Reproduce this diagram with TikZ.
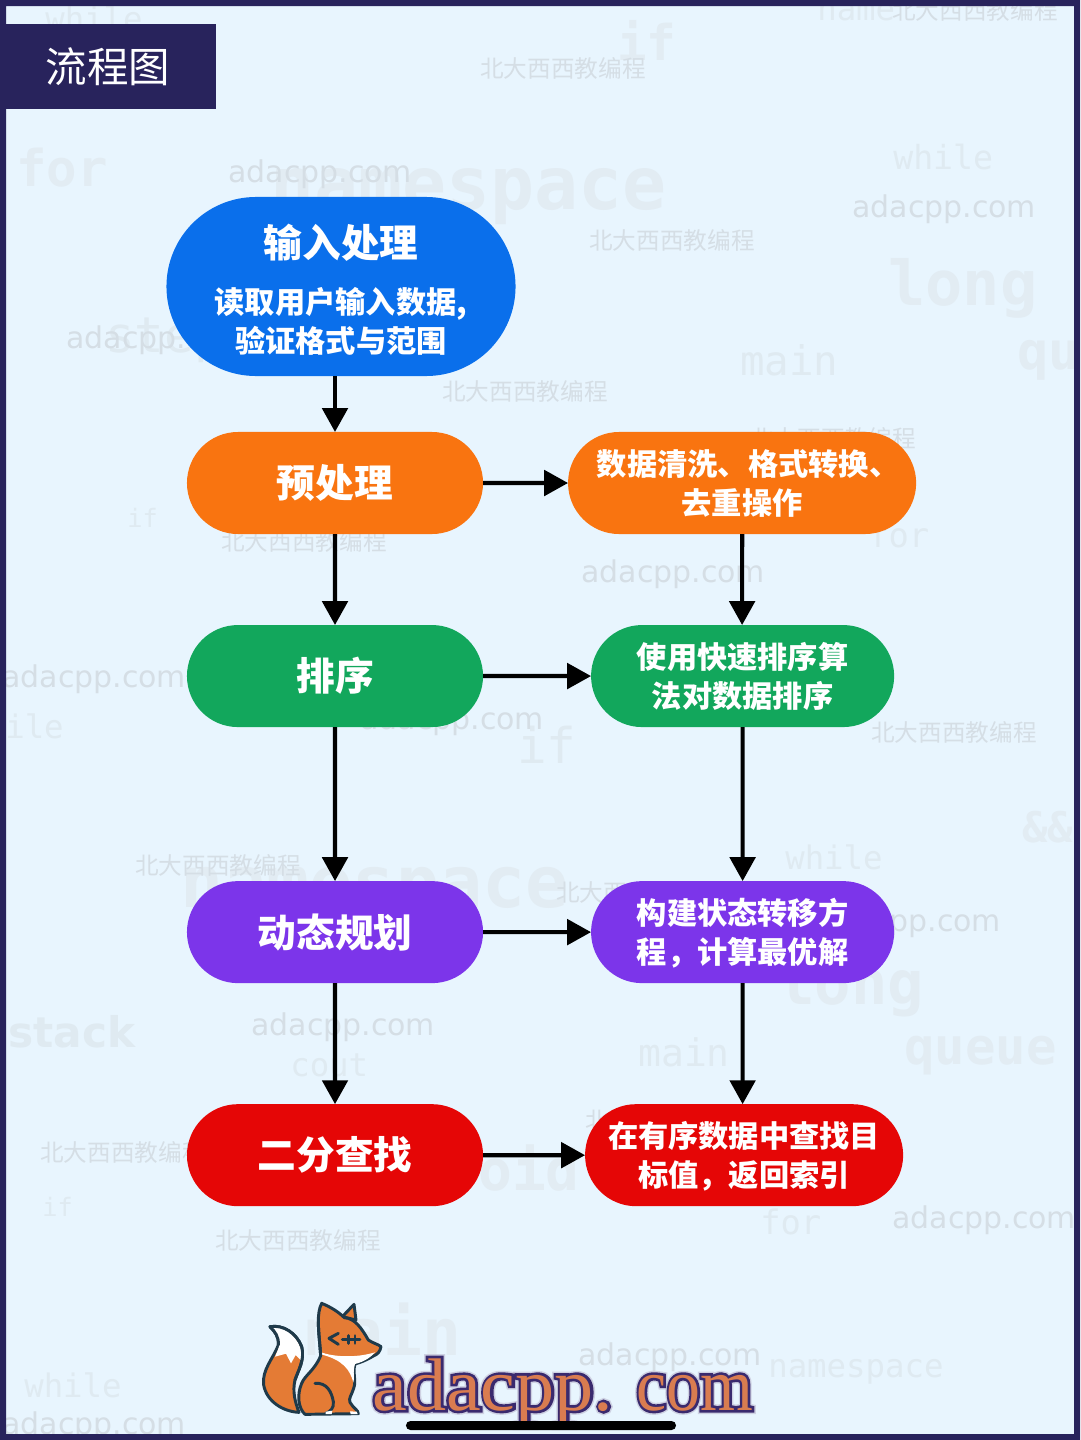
\documentclass[tikz,border=0pt]{standalone}
\usepackage{fontspec}
\usepackage{xcolor}
\usepackage{graphicx}
\usetikzlibrary{arrows.meta,positioning,shapes.misc}

\newfontfamily\cjk{Noto Sans CJK SC}
\newfontfamily\wmsans{DejaVu Sans}
\newfontfamily\wmmono{DejaVu Sans Mono}
\newfontfamily\logofont{Liberation Serif}
\newfontfamily\logoline[FakeBold=7]{Liberation Serif}
\newfontfamily\logoglow[FakeBold=11]{Liberation Serif}

\newcommand{\headfont}{\cjk\bfseries\fontsize{27.5}{36}\selectfont}
\newcommand{\bodyfont}{\cjk\bfseries\fontsize{21.5}{27.7}\selectfont}
\newcommand{\logoword}{\scalebox{1.05}[1]{adacpp.}\ \hspace{3pt}\scalebox{0.91}[1]{com}}

\definecolor{framenavy}{HTML}{28235C}
\definecolor{pagebg}{HTML}{E8F5FE}
\definecolor{inputblue}{HTML}{0A6FEB}
\definecolor{preorange}{HTML}{F97410}
\definecolor{sortgreen}{HTML}{12A75C}
\definecolor{dppurple}{HTML}{7C35EA}
\definecolor{findred}{HTML}{E50606}
\definecolor{wmdark}{HTML}{D5DEE5}
\definecolor{wmlight}{HTML}{DFEAF1}
\definecolor{wmpale}{HTML}{E2ECF3}
\definecolor{foxorange}{HTML}{E47B35}
\definecolor{foxline}{HTML}{1F3A4A}
\definecolor{logoink}{HTML}{3A2A6E}
\definecolor{logofill}{HTML}{D97C50}

\begin{document}
\begin{tikzpicture}[
  x=0.025cm, y=-0.025cm,
  box/.style={rounded rectangle, inner sep=0pt, outer sep=0pt, text=white, align=center,
              minimum height=2.55cm, font=\bodyfont},
  arrow/.style={-{Triangle[length=17pt, width=18pt]}, line width=3pt},
  wmark/.style={anchor=west, inner sep=0pt, text=wmdark, font=\cjk\fontsize{16.8}{17}\selectfont},
  wsite/.style={anchor=west, inner sep=0pt, text=wmdark, font=\wmsans\fontsize{21.3}{22}\selectfont},
  wcode/.style={anchor=west, inner sep=0pt, text=wmlight},
  foxfill/.style={fill=foxorange, draw=foxline, line width=2.1pt, line join=round},
  foxstroke/.style={draw=foxline, line width=2.1pt, line cap=round, line join=round},
  logotext/.style={anchor=base west, inner sep=0pt}
]
\useasboundingbox (0,0) rectangle (1080,1440);
\fill[pagebg] (0,0) rectangle (1080,1440);

% watermarks
\foreach \wx/\wy/\ws/\wt [count=\i] in {
  893/157/23.6/while, 740/360/29/main, 105/340/35/step,
  127/518/18/if, 868/535/24/for, 5/726/23/ile, 517/745/35/if,
  785/857/23/while, 638/1052/27/main, 290/1065/23/cout,
  42/1207/18/if, 760/1222/24/for,
  24/1385/23/while, 768/1372/23/namespace, 817/12/23/name, 45/18/23/while}
  \node[wcode, font=\wmmono\fontsize{\ws}{\ws}\selectfont] (code\i) at (\wx,\wy) {\wt};
\foreach \wx/\wy/\ws/\wt [count=\i] in {
  16/168/36/for, 617/40/35/if, 270/197/52/namespace,
  888/288/44/long, 1017/360/37/qu, 180/895/51/namespace, 1022/827/30/\&\&,
  778/988/43/long, 904/1056/36/queue, 444/1168/40/void, 305/1330/46/main}
  \node[wcode, text=wmpale, font=\wmmono\bfseries\fontsize{\ws}{\ws}\selectfont] (bold\i) at (\wx,\wy) {\wt};
\node[wcode, font=\wmsans\bfseries\fontsize{30}{31}\selectfont] (stack) at (8,1032) {stack};
\foreach \wx/\wy [count=\i] in {
  228/174, 852/209, 66/340, 581/574, 2/679, 360/721, 817/923,
  251/1027, 892/1220, 578/1357, 2/1426}
  \node[wsite] (site\i) at (\wx,\wy) {adacpp.com};
\foreach \wx/\wy [count=\i] in {
  480/68, 589/240, 442/391, 221/541, 750/438, 871/732, 135/865,
  556/892, 40/1152, 215/1240, 585/1120, 892/10}
  \node[wmark] (mark\i) at (\wx,\wy) {北大西西教编程};

% frame and title
\fill[framenavy, even odd rule] (0,0) rectangle (1080,1440) (6,6) rectangle (1074,1434);
\node[rectangle, fill=framenavy, text=white, inner sep=0pt,
      minimum width=5.4cm, minimum height=2.125cm,
      font=\cjk\fontsize{29.5}{30}\selectfont] (titlebar) at (108,66.5) {流程图};

% left column
\node[box, fill=inputblue, minimum width=8.725cm, minimum height=4.475cm] (input) at (341,286.5)
  {\headfont\rule{0pt}{28pt}输入处理\\[4.2mm]\bodyfont 读取用户输入数据,\\验证格式与范围};
\node[box, fill=preorange, minimum width=7.4cm, font=\headfont] (pre) at (335,483) {预处理};
\node[box, fill=sortgreen, minimum width=7.4cm, font=\headfont, below=2.275cm of pre] (sort) {排序};
\node[box, fill=dppurple, minimum width=7.4cm, font=\headfont, below=3.85cm of sort] (dp) {动态规划};
\node[box, fill=findred, minimum width=7.4cm, font=\headfont, below=3.025cm of dp] (bin) {二分查找};

% right column
\node[box, fill=preorange, minimum width=8.7cm, right=2.125cm of pre] (clean) {\rule{0pt}{19pt}\hspace*{8.5pt}数据清洗、格式转换、\\去重操作};
\node[box, fill=sortgreen, minimum width=7.575cm, right=2.7cm of sort] (quick) {使用快速排序算\\法对数据排序};
\node[box, fill=dppurple, minimum width=7.575cm, right=2.7cm of dp] (state) {\rule{0pt}{20pt}构建状态转移方\\程，计算最优解};
\node[box, fill=findred, minimum width=7.95cm, right=2.55cm of bin] (find) {\rule{0pt}{20pt}在有序数据中查找目\\标值，返回索引};

\draw[arrow] (pre.north |- input.south) -- (pre.north);
\draw[arrow] (pre) -- (sort);
\draw[arrow] (sort) -- (dp);
\draw[arrow] (dp) -- (bin);
\draw[arrow] (pre) -- (clean);
\draw[arrow] (sort) -- (quick);
\draw[arrow] (dp) -- (state);
\draw[arrow] (bin) -- (find);
\draw[arrow] (clean) -- (clean |- quick.north);
\draw[arrow] (quick) -- (quick |- state.north);
\draw[arrow] (state) -- (state |- find.north);

% fox
\begin{scope}[shift={(255,1295)}, x=0.025cm/3, y=-0.025cm/3]
  \path[foxfill] (45,95) .. controls (85,88) and (125,115) .. (140,155)
    .. controls (150,195) and (130,225) .. (120,255)
    .. controls (112,290) and (120,320) .. (132,352)
    .. controls (85,350) and (35,320) .. (26,270)
    .. controls (20,225) and (55,190) .. (70,150)
    .. controls (72,125) and (60,110) .. (45,95) -- cycle;
  \path[fill=white] (48,97) .. controls (85,92) and (122,118) .. (137,160)
    .. controls (140,170) and (139,180) .. (137,195)
    -- (122,180) -- (108,205) -- (93,176) -- (60,185)
    .. controls (66,170) and (72,160) .. (73,148)
    .. controls (74,125) and (62,110) .. (48,97) -- cycle;
  \path[foxstroke] (45,95) .. controls (85,88) and (125,115) .. (140,155)
    .. controls (150,195) and (130,225) .. (120,255);
  \path[foxstroke] (45,95) .. controls (60,110) and (72,125) .. (70,150);
  \path[foxfill] (262,65) -- (297,28) -- (303,75) -- cycle;
  \path[foxfill] (200,25) .. controls (225,35) and (250,50) .. (268,68)
    .. controls (300,70) and (320,100) .. (340,135)
    .. controls (355,145) and (370,148) .. (378,155)
    .. controls (375,170) and (368,178) .. (355,183)
    .. controls (335,195) and (315,203) .. (300,207)
    .. controls (292,235) and (305,255) .. (296,280)
    .. controls (290,300) and (280,310) .. (285,322)
    .. controls (295,340) and (310,345) .. (310,356)
    -- (150,358)
    .. controls (130,340) and (125,300) .. (140,265)
    .. controls (150,240) and (180,225) .. (197,182)
    .. controls (195,150) and (190,110) .. (190,80)
    .. controls (190,60) and (192,40) .. (200,25) -- cycle;
  \path[fill=white] (198,172) .. controls (235,185) and (300,190) .. (360,172)
    .. controls (340,195) and (315,203) .. (300,207)
    .. controls (292,235) and (300,250) .. (295,262)
    .. controls (285,225) and (265,195) .. (198,178) -- cycle;
  \path[foxstroke] (197,182) .. controls (195,150) and (190,110) .. (190,80);
  \path[foxstroke] (180,265) .. controls (215,262) and (230,290) .. (235,320)
    .. controls (238,340) and (225,350) .. (212,355);
  \path[fill=white] (212,350) -- (232,347) -- (230,357) -- (212,357) -- cycle
    (285,349) -- (305,350) -- (308,357) -- (287,357) -- cycle;
  \path[foxstroke] (250,115) -- (222,130) -- (250,148);
  \path[foxstroke] (262,133) -- (315,133) (280,122) -- (280,145) (300,122) -- (300,145);
\end{scope}

% logo text
\node[logotext, text=logoink!35, opacity=0.55, font=\logoglow\fontsize{53}{54}\selectfont] (logoblur) at (372,1410) {\logoword};
\node[logotext, text=logoink, font=\logoline\fontsize{53}{54}\selectfont] (logoedge) at (372,1410) {\logoword};
\node[logotext, text=logofill, font=\logofont\fontsize{53}{54}\selectfont] (logo) at (372,1410) {\logoword};

\node[rounded rectangle, fill=black, inner sep=0pt, minimum width=6.75cm, minimum height=0.225cm] (homebar) at (541,1425.5) {};

\end{tikzpicture}
\end{document}
